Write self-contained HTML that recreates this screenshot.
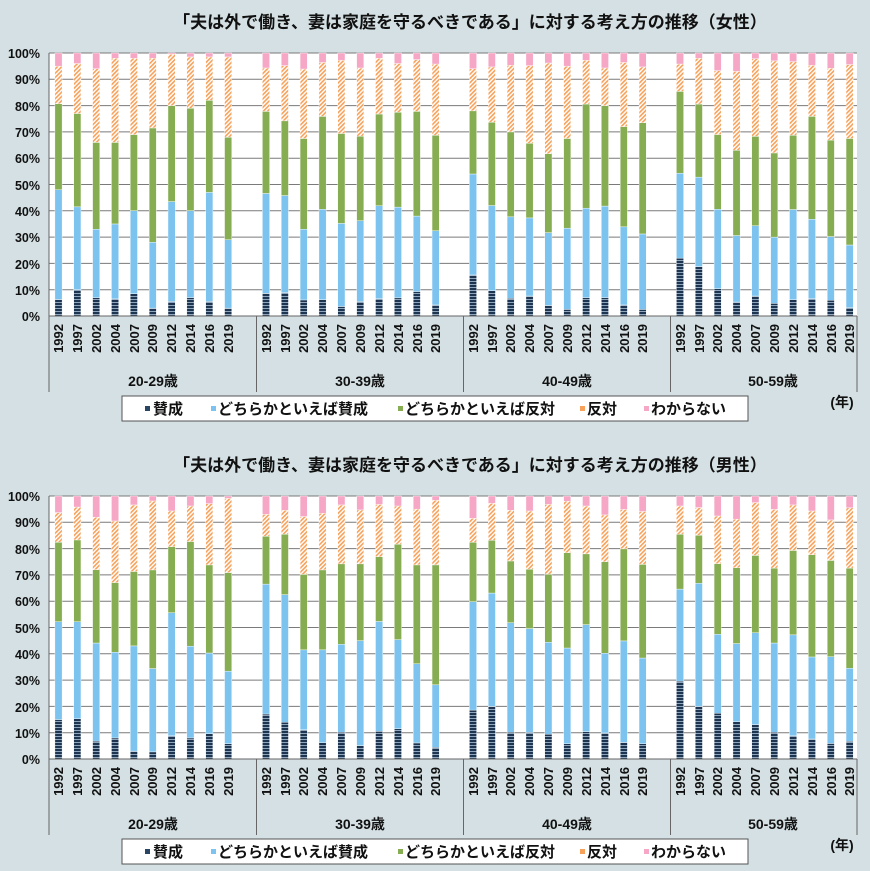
<!DOCTYPE html>
<html><head><meta charset="utf-8"><style>
html,body{margin:0;padding:0;background:#d4e0e3;}
svg{display:block;font-family:"Liberation Sans","Noto Sans CJK JP",sans-serif;}
</style></head><body>
<svg id="s" width="870" height="871" xmlns="http://www.w3.org/2000/svg">
<defs>
<pattern id="st" width="4" height="3" patternUnits="userSpaceOnUse"><rect width="4" height="3" fill="#1d3550"/><rect y="2" width="4" height="1" fill="#8fa6bd"/></pattern>
<pattern id="hx" width="3" height="3" patternUnits="userSpaceOnUse" patternTransform="rotate(45)"><rect width="3" height="3" fill="#fff"/><rect width="1.6" height="3" fill="#f7a15a"/></pattern>
</defs>
<rect width="870" height="871" fill="#d4e0e3"/>
<g id="c1"></g>
<g id="c2" transform="translate(0,443)"></g>
</svg>
<script>
const F=[
[[6.3,48,80.7,95],[10,41.5,77,96],[7,33,66,94],[6.5,35,66,98],[8.5,40,69,98],[3,28,71.5,98],[5.5,43.5,80,99.5],[7,40,79,98.5],[5.5,47,82,98.5],[3,29,68,98.5]],
[[8.6,46.6,77.8,94.3],[8.9,45.8,74.2,95.2],[6.1,33,67.5,93.9],[6.2,40.6,75.9,96.4],[3.6,35.2,69.4,97.2],[5.5,36.2,68.4,94.3],[6.6,41.9,76.8,98],[6.9,41.4,77.5,96],[9.3,38,77.8,97.5],[4.2,32.4,68.7,95.8]],
[[15.6,54,78,94],[9.6,42,73.7,94.7],[6.7,37.7,70,95.3],[7.6,37.3,65.7,95.2],[4,31.7,61.7,96.2],[2.5,33.4,67.5,95],[7,41,80.6,97.2],[7,41.8,80,94.3],[4.2,33.9,72,96.4],[2.5,31.2,73.5,94.7]],
[[22,54.3,85.4,95.8],[18.8,52.8,80.6,98],[10.4,40.6,69,93.3],[5.3,30.6,63,93],[7.6,34.3,68.3,97.8],[4.8,30,62,97],[6.2,40.5,68.7,96.7],[6.6,36.8,75.9,95.3],[6,30.2,66.9,94.2],[3.2,27,67.5,95.6]]];
const M=[
[[15,52.2,82.4,93.7],[15.3,52.2,83.3,95.8],[6.8,44.1,72,91.9],[8,40.6,67.1,90.5],[3,43,71.3,96.6],[2.7,34.4,71.9,98.1],[8.8,55.6,80.7,94.3],[8,42.9,82.7,96.2],[9.6,40.3,73.8,97.1],[5.8,33.4,70.9,99.1]],
[[17.1,66.5,84.7,93],[14,62.5,85.5,94.6],[11.1,41.5,70.2,92.2],[6.2,41.5,71.9,93.4],[10.2,43.6,74.2,96.6],[5.1,45,74.2,94.7],[10.5,52.3,76.9,96.8],[11.5,45.4,81.7,96.2],[6.1,36.2,73.8,95],[4.4,28.2,73.8,98.4]],
[[18.6,59.8,82.4,91.5],[20,63.1,83.2,97.2],[10.2,51.8,75.3,94.6],[10.1,49.6,72.2,94.3],[9.4,44.4,70.3,96.8],[5.8,42.2,78.4,98],[10.4,51.1,78,96.2],[9.9,40.2,75,92.8],[6.3,44.9,79.9,94.9],[5.8,38.4,74,94.1]],
[[29.6,64.6,85.5,96.2],[20,66.8,85.1,95.6],[17.4,47.4,74.3,92.4],[14.2,43.9,72.7,91.2],[13.1,48,77.4,97.5],[10.2,44.1,72.6,94.9],[8.8,47.2,79.3,96.6],[7.6,38.8,77.7,94.3],[5.9,38.9,75.5,90.9],[6.7,34.5,72.6,95.5]]];
const NS="http://www.w3.org/2000/svg";
function el(p,t,a){const e=document.createElementNS(NS,t);for(const k in a)e.setAttribute(k,a[k]);p.appendChild(e);return e;}
const X0=49,XR=857,Y0=316,Y1=53,H=Y0-Y1;
const GS=[49,256.5,463.5,670.5];
const cols=["url(#st)","#7cc3ef","#86ad52","url(#hx)","#f5a7c5"];
function draw(g,D){
  el(g,"rect",{x:X0,y:Y1,width:XR-X0,height:H,fill:"#fff"});
  for(let i=1;i<=10;i++){const y=Y0-H*i/10;el(g,"line",{x1:X0,x2:XR,y1:y,y2:y,stroke:"#7a7a7a","stroke-width":1});}
  D.forEach((grp,gi)=>{grp.forEach((v,bi)=>{
    const cx=GS[gi]+9.5+bi*18.85;const c=[0,...v,100];
    for(let k=0;k<5;k++){const ya=Y0-H*c[k]/100,yb=Y0-H*c[k+1]/100;
      el(g,"rect",{x:cx-3.6,y:yb,width:7.2,height:Math.max(0,ya-yb),fill:cols[k],stroke:"#fff","stroke-width":0.4});}
  });});
  el(g,"line",{x1:X0,x2:XR,y1:Y0,y2:Y0,stroke:"#666","stroke-width":1});
  [49,256.5,463.5,670.5,857].forEach(x=>el(g,"line",{x1:x,x2:x,y1:x==49?Y1:Y0,y2:392,stroke:"#666","stroke-width":1}));
  el(g,"rect",{x:122,y:396,width:626,height:25,fill:"#fff",stroke:"#555","stroke-width":1});
  const mk=[[145,"#2a4563"],[211,"#7cc3ef"],[398,"#86ad52"],[580,"#f7a15a"],[644,"#f5a7c5"]];
  mk.forEach(m=>el(g,"rect",{x:m[0],y:406,width:5,height:5,fill:m[1]}));
}
draw(document.getElementById("c1"),F);
draw(document.getElementById("c2"),M);
</script>
<svg width="870" height="871" style="position:absolute;left:0;top:0" xmlns="http://www.w3.org/2000/svg" font-family="Liberation Sans,Noto Sans CJK JP,sans-serif" font-weight="bold" fill="#111">
<g font-size="17" text-anchor="middle" font-family="Noto Sans CJK JP,sans-serif">
<text x="470" y="28">「夫は外で働き、妻は家庭を守るべきである」に対する考え方の推移（女性）</text>
<text x="470" y="471">「夫は外で働き、妻は家庭を守るべきである」に対する考え方の推移（男性）</text>
</g>
<g font-size="12.5" text-anchor="end">
<text x="40" y="58">100%</text><text x="40" y="84">90%</text><text x="40" y="111">80%</text><text x="40" y="137">70%</text><text x="40" y="163">60%</text><text x="40" y="190">50%</text><text x="40" y="216">40%</text><text x="40" y="242">30%</text><text x="40" y="269">20%</text><text x="40" y="295">10%</text><text x="40" y="321">0%</text>
<text x="40" y="501">100%</text><text x="40" y="527">90%</text><text x="40" y="554">80%</text><text x="40" y="580">70%</text><text x="40" y="606">60%</text><text x="40" y="633">50%</text><text x="40" y="659">40%</text><text x="40" y="685">30%</text><text x="40" y="712">20%</text><text x="40" y="738">10%</text><text x="40" y="764">0%</text>
</g>
<g font-size="13" text-anchor="end">
<text transform="translate(63,324) rotate(-90)">1992</text><text transform="translate(82,324) rotate(-90)">1997</text><text transform="translate(101,324) rotate(-90)">2002</text><text transform="translate(120,324) rotate(-90)">2004</text><text transform="translate(139,324) rotate(-90)">2007</text><text transform="translate(157,324) rotate(-90)">2009</text><text transform="translate(176,324) rotate(-90)">2012</text><text transform="translate(195,324) rotate(-90)">2014</text><text transform="translate(214,324) rotate(-90)">2016</text><text transform="translate(233,324) rotate(-90)">2019</text>
<text transform="translate(271,324) rotate(-90)">1992</text><text transform="translate(290,324) rotate(-90)">1997</text><text transform="translate(308,324) rotate(-90)">2002</text><text transform="translate(327,324) rotate(-90)">2004</text><text transform="translate(346,324) rotate(-90)">2007</text><text transform="translate(365,324) rotate(-90)">2009</text><text transform="translate(384,324) rotate(-90)">2012</text><text transform="translate(403,324) rotate(-90)">2014</text><text transform="translate(422,324) rotate(-90)">2016</text><text transform="translate(440,324) rotate(-90)">2019</text>
<text transform="translate(478,324) rotate(-90)">1992</text><text transform="translate(497,324) rotate(-90)">1997</text><text transform="translate(515,324) rotate(-90)">2002</text><text transform="translate(534,324) rotate(-90)">2004</text><text transform="translate(553,324) rotate(-90)">2007</text><text transform="translate(572,324) rotate(-90)">2009</text><text transform="translate(591,324) rotate(-90)">2012</text><text transform="translate(610,324) rotate(-90)">2014</text><text transform="translate(629,324) rotate(-90)">2016</text><text transform="translate(647,324) rotate(-90)">2019</text>
<text transform="translate(685,324) rotate(-90)">1992</text><text transform="translate(704,324) rotate(-90)">1997</text><text transform="translate(722,324) rotate(-90)">2002</text><text transform="translate(741,324) rotate(-90)">2004</text><text transform="translate(760,324) rotate(-90)">2007</text><text transform="translate(779,324) rotate(-90)">2009</text><text transform="translate(798,324) rotate(-90)">2012</text><text transform="translate(817,324) rotate(-90)">2014</text><text transform="translate(836,324) rotate(-90)">2016</text><text transform="translate(854,324) rotate(-90)">2019</text>
<text transform="translate(63,767) rotate(-90)">1992</text><text transform="translate(82,767) rotate(-90)">1997</text><text transform="translate(101,767) rotate(-90)">2002</text><text transform="translate(120,767) rotate(-90)">2004</text><text transform="translate(139,767) rotate(-90)">2007</text><text transform="translate(157,767) rotate(-90)">2009</text><text transform="translate(176,767) rotate(-90)">2012</text><text transform="translate(195,767) rotate(-90)">2014</text><text transform="translate(214,767) rotate(-90)">2016</text><text transform="translate(233,767) rotate(-90)">2019</text>
<text transform="translate(271,767) rotate(-90)">1992</text><text transform="translate(290,767) rotate(-90)">1997</text><text transform="translate(308,767) rotate(-90)">2002</text><text transform="translate(327,767) rotate(-90)">2004</text><text transform="translate(346,767) rotate(-90)">2007</text><text transform="translate(365,767) rotate(-90)">2009</text><text transform="translate(384,767) rotate(-90)">2012</text><text transform="translate(403,767) rotate(-90)">2014</text><text transform="translate(422,767) rotate(-90)">2016</text><text transform="translate(440,767) rotate(-90)">2019</text>
<text transform="translate(478,767) rotate(-90)">1992</text><text transform="translate(497,767) rotate(-90)">1997</text><text transform="translate(515,767) rotate(-90)">2002</text><text transform="translate(534,767) rotate(-90)">2004</text><text transform="translate(553,767) rotate(-90)">2007</text><text transform="translate(572,767) rotate(-90)">2009</text><text transform="translate(591,767) rotate(-90)">2012</text><text transform="translate(610,767) rotate(-90)">2014</text><text transform="translate(629,767) rotate(-90)">2016</text><text transform="translate(647,767) rotate(-90)">2019</text>
<text transform="translate(685,767) rotate(-90)">1992</text><text transform="translate(704,767) rotate(-90)">1997</text><text transform="translate(722,767) rotate(-90)">2002</text><text transform="translate(741,767) rotate(-90)">2004</text><text transform="translate(760,767) rotate(-90)">2007</text><text transform="translate(779,767) rotate(-90)">2009</text><text transform="translate(798,767) rotate(-90)">2012</text><text transform="translate(817,767) rotate(-90)">2014</text><text transform="translate(836,767) rotate(-90)">2016</text><text transform="translate(854,767) rotate(-90)">2019</text>
</g>
<g font-size="14" text-anchor="middle">
<text x="153" y="386">20-29歳</text><text x="360" y="386">30-39歳</text><text x="567" y="386">40-49歳</text><text x="773" y="386">50-59歳</text>
<text x="153" y="829">20-29歳</text><text x="360" y="829">30-39歳</text><text x="567" y="829">40-49歳</text><text x="773" y="829">50-59歳</text>
<text x="842" y="407">(年)</text><text x="842" y="850">(年)</text>
</g>
<g font-size="15">
<text x="153" y="414">賛成</text><text x="218" y="414">どちらかといえば賛成</text><text x="405" y="414">どちらかといえば反対</text><text x="587" y="414">反対</text><text x="651" y="414">わからない</text>
<text x="153" y="857">賛成</text><text x="218" y="857">どちらかといえば賛成</text><text x="405" y="857">どちらかといえば反対</text><text x="587" y="857">反対</text><text x="651" y="857">わからない</text>
</g>
</svg>
</body></html>
